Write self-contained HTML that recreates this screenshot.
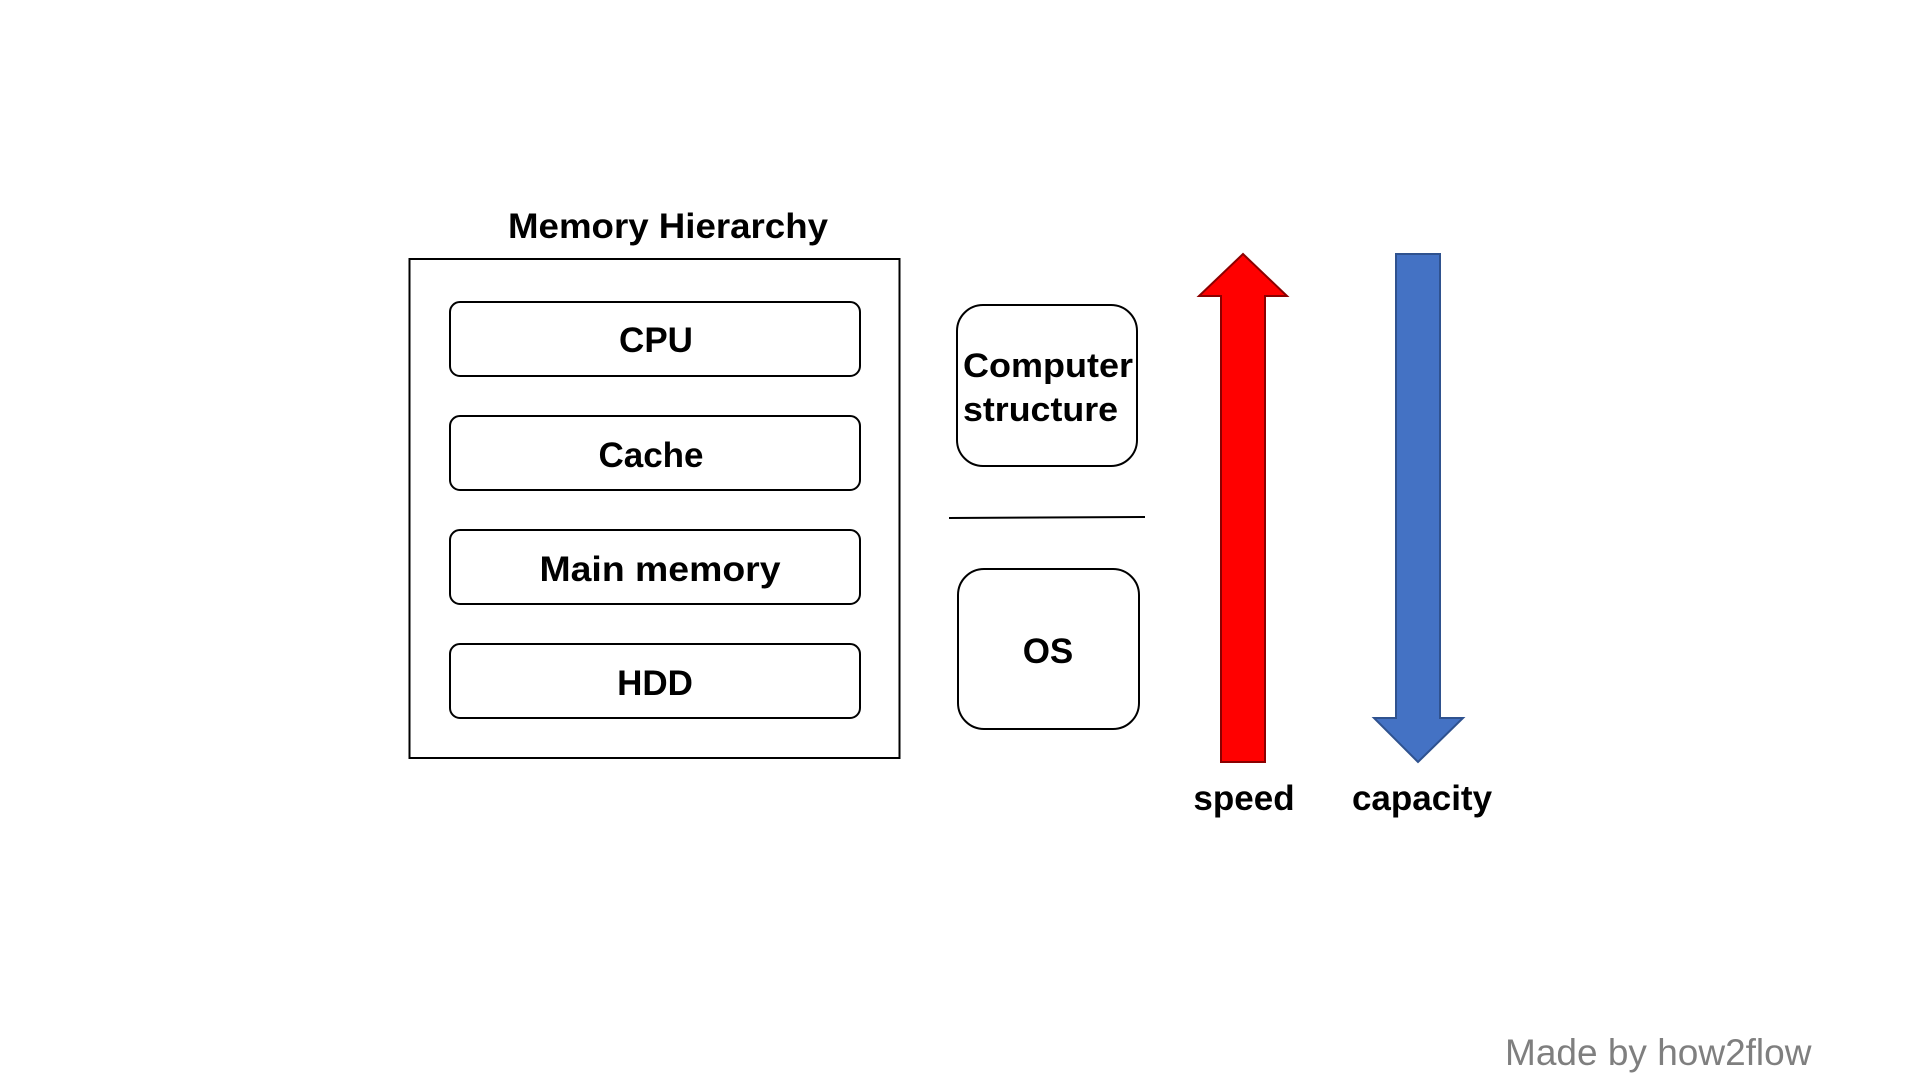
<!DOCTYPE html>
<html><head><meta charset="utf-8"><style>html,body{margin:0;padding:0;background:#fff}svg{display:block}</style></head>
<body>
<svg width="1920" height="1080" viewBox="0 0 1920 1080" xmlns="http://www.w3.org/2000/svg" font-family="Liberation Sans, sans-serif">
<rect width="1920" height="1080" fill="#fff"/>
<text x="508" y="238" font-size="35" font-weight="bold" textLength="320" lengthAdjust="spacingAndGlyphs">Memory Hierarchy</text>
<rect x="409.5" y="259" width="490" height="499" fill="none" stroke="#000" stroke-width="2"/>
<g fill="#fff" stroke="#000" stroke-width="2">
<rect x="450" y="302" width="410" height="74" rx="10"/>
<rect x="450" y="416" width="410" height="74" rx="10"/>
<rect x="450" y="530" width="410" height="74" rx="10"/>
<rect x="450" y="644" width="410" height="74" rx="10"/>
<rect x="957" y="305" width="180" height="161" rx="26"/>
<rect x="958" y="569" width="181" height="160" rx="26"/>
</g>
<g font-size="35" font-weight="bold" text-anchor="middle">
<text x="656" y="352">CPU</text>
<text x="651" y="467">Cache</text>
<text x="660" y="581" textLength="241" lengthAdjust="spacingAndGlyphs">Main memory</text>
<text x="655" y="695">HDD</text>
<text x="1048" y="663">OS</text>
<text x="1244" y="810">speed</text>
<text x="1422" y="810">capacity</text>
</g>
<g font-size="34" font-weight="bold">
<text x="963" y="377" textLength="170" lengthAdjust="spacingAndGlyphs">Computer</text>
<text x="963" y="421" textLength="155" lengthAdjust="spacingAndGlyphs">structure</text>
</g>
<line x1="949" y1="518" x2="1145" y2="517" stroke="#000" stroke-width="2"/>
<polygon points="1243,254 1287,296 1265,296 1265,762 1221,762 1221,296 1199,296" fill="#ff0000" stroke="#8b0000" stroke-width="2"/>
<polygon points="1396,254 1440,254 1440,718 1463,718 1418,762 1374,718 1396,718" fill="#4472c4" stroke="#2f528f" stroke-width="2"/>
<text x="1505" y="1065" font-size="37" fill="#7f7f7f">Made by how2flow</text>
</svg>
</body></html>
